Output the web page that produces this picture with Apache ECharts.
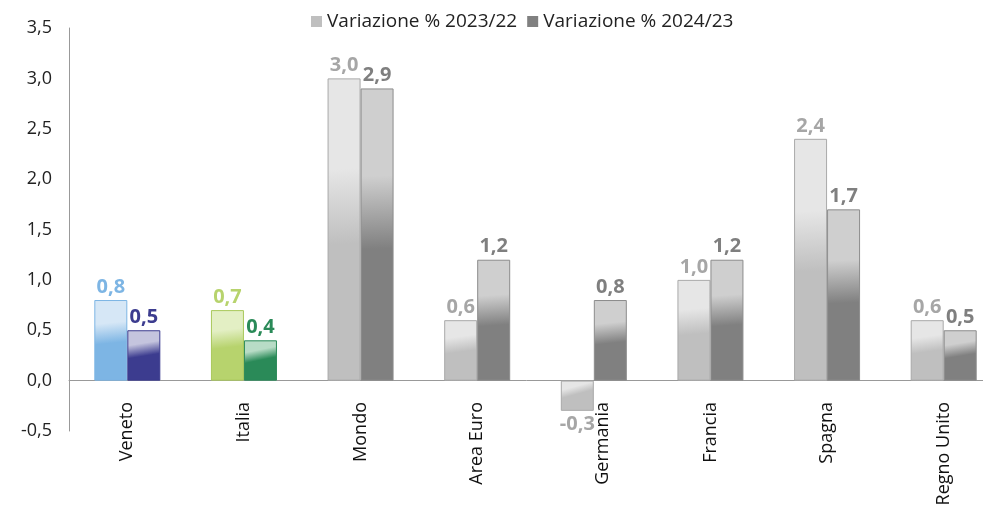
<!DOCTYPE html>
<html>
<head>
<meta charset="utf-8">
<script src="https://cdn.jsdelivr.net/npm/echarts@6/dist/echarts.min.js"></script>
<style>
    html, body { margin: 0; padding: 0; background: #fff; }
    #chart { width: 983px; height: 507px; }
</style>
</head>
<body>
<div id="chart"></div>
<script>
// dati
var categories = ['Veneto', 'Italia', 'Mondo', 'Area Euro', 'Germania', 'Francia', 'Spagna', 'Regno Unito']
var var2023 = [0.8, 0.7, 3.0, 0.6, -0.3, 1.0, 2.4, 0.6]
var var2024 = [0.5, 0.4, 2.9, 1.2, 0.8, 1.2, 1.7, 0.5]
var seriesNames = ['Variazione % 2023/22', 'Variazione % 2024/23']
var yTicks = [-0.5, 0, 0.5, 1, 1.5, 2, 2.5, 3, 3.5]

var fontName = 'Open Sans'

// colori: [chiaro in alto, base, bordo, etichetta]
var greyA = ['#e6e6e6', '#bfbfbf', '#a9a9a9', '#a6a6a6']
var greyB = ['#cfcfcf', '#808080', '#8c8c8c', '#7f7f7f']
var specialA = {
    0: ['#d6e7f6', '#7db5e4', '#7db5e4', '#7db5e4'],
    1: ['#e3efc4', '#b7d36d', '#a9c85c', '#b7d36d']
}
var specialB = {
    0: ['#c4c4de', '#3c3c8f', '#3c3c8f', '#3c3c8f'],
    1: ['#b8dcc6', '#2a8a58', '#2a8a58', '#2a8a58']
}

function fmt(v) {
    return v.toFixed(1).replace('.', ',')
}

function fill(c) {
    return new echarts.graphic.LinearGradient(0, 0, 0.25, 1, [
        { offset: 0, color: c[0] },
        { offset: 0.3, color: c[0] },
        { offset: 0.55, color: c[1] },
        { offset: 1, color: c[1] }
    ])
}

function buildData(values, special, grey) {
    return values.map(function (v, i) {
        var c = special[i] || grey
        return {
            value: v,
            itemStyle: { color: fill(c), borderColor: c[2], borderWidth: 1 },
            label: { color: c[3], position: v < 0 ? 'bottom' : 'top' }
        }
    })
}

// l'etichetta sotto la barra negativa sposta un po' il nome della categoria
var xData = categories.map(function (name, i) {
    if (var2023[i] < 0) {
        return { value: name, textStyle: { verticalAlign: 'top', lineHeight: 18 } }
    }
    return name
})

var myChart = echarts.init(document.getElementById('chart'))

var labelStyle = {
    show: true,
    fontFamily: fontName,
    fontSize: 20,
    fontWeight: 'bold',
    distance: 3,
    formatter: function (p) { return fmt(p.value) }
}

var option = {
    backgroundColor: '#fff',
    animation: false,
    grid: {
        left: 69,
        right: -19,
        top: 28,
        bottom: 76,
        containLabel: false,
        outerBoundsMode: 'none'
    },
    legend: {
        top: 7,
        left: 306,
        icon: 'rect',
        itemWidth: 11,
        itemHeight: 11,
        itemGap: 10,
        textStyle: { color: '#222', fontFamily: fontName, fontSize: 19 },
        data: [
            { name: seriesNames[0], itemStyle: { color: '#bfbfbf', borderWidth: 0 } },
            { name: seriesNames[1], itemStyle: { color: '#808080', borderWidth: 0 } }
        ]
    },
    xAxis: {
        type: 'category',
        data: xData,
        axisLine: { show: true, onZero: true, lineStyle: { color: '#999', width: 1 } },
        axisTick: { show: false },
        axisLabel: {
            rotate: 90,
            interval: 0,
            margin: -29,
            color: '#111',
            fontFamily: fontName,
            fontSize: 18
        }
    },
    yAxis: {
        type: 'value',
        min: yTicks[0],
        max: yTicks[yTicks.length - 1],
        interval: 0.5,
        splitLine: { show: false },
        axisTick: { show: false },
        axisLine: { show: true, lineStyle: { color: '#999', width: 1 } },
        axisLabel: {
            color: '#222',
            fontFamily: fontName,
            fontSize: 18,
            margin: 17,
            formatter: fmt
        }
    },
    series: [
        {
            name: seriesNames[0],
            type: 'bar',
            barWidth: 33,
            barGap: '0%',
            itemStyle: { color: '#bfbfbf' },
            label: labelStyle,
            data: buildData(var2023, specialA, greyA)
        },
        {
            name: seriesNames[1],
            type: 'bar',
            barWidth: 33,
            barGap: '0%',
            itemStyle: { color: '#808080' },
            label: labelStyle,
            data: buildData(var2024, specialB, greyB)
        }
    ]
}
myChart.setOption(option)
</script>
</body>
</html>
